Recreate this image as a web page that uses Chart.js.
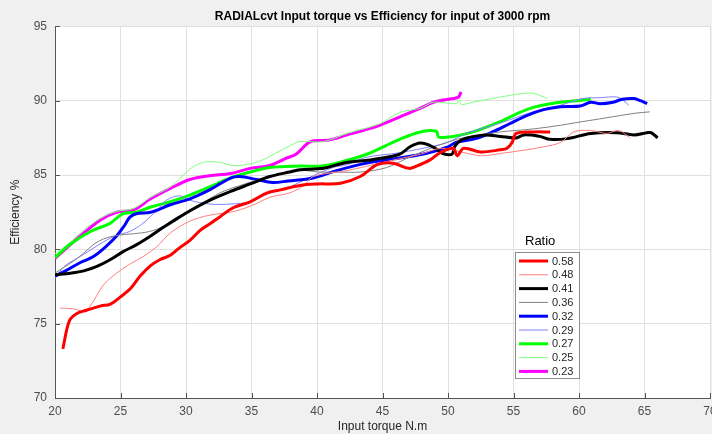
<!DOCTYPE html>
<html>
<head>
<meta charset="utf-8">
<script src="https://cdn.jsdelivr.net/npm/chart.js@4.4.0/dist/chart.umd.min.js"></script>
<style>
  html, body { margin: 0; padding: 0; background: #f0f0f0; }
  #wrap { width: 712px; height: 434px; }
</style>
</head>
<body>
<div id="wrap"><canvas id="effChart" width="712" height="434"></canvas></div>
<script>
// ratio labels (legend order)
const ratios = ['0.58', '0.48', '0.41', '0.36', '0.32', '0.29', '0.27', '0.25', '0.23'];

// [torque N.m, efficiency %]
const r058 = [[20.6,73.3],[21.1,75.2],[21.7,75.7],[22.4,75.9],[23.5,76.2],[24.2,76.3],[25.0,76.8],[25.8,77.4],[26.5,78.2],[27.3,78.9],[28.0,79.3],[28.8,79.6],[29.5,80.1],[30.3,80.6],[31.1,81.3],[31.8,81.7],[32.6,82.2],[33.6,82.8],[34.9,83.2],[36.2,83.8],[37.2,84.0],[38.7,84.3],[40.0,84.4],[41.8,84.45],[43.3,84.9],[44.6,85.7],[45.8,85.8],[47.0,85.45],[47.6,85.6],[48.6,86.0],[49.4,86.5],[50.4,86.8],[50.7,86.3],[51.2,86.8],[52.5,86.55],[54.0,86.7],[54.5,86.8],[54.9,87.2],[55.2,87.8],[56.5,87.9],[57.8,87.9]];
const r048 = [[20.4,76.05],[21.4,76.0],[22.2,75.85],[22.7,76.2],[23.7,77.6],[24.7,78.4],[25.7,79.0],[26.7,79.5],[27.8,80.2],[28.8,81.1],[30.3,81.9],[31.8,82.3],[33.4,82.5],[34.9,82.9],[36.4,83.5],[37.9,83.8],[39.0,84.3],[39.7,84.9],[42.3,85.3],[44.3,85.7],[46.3,86.1],[47.9,86.4],[49.5,86.8],[51.0,86.55],[52.5,86.3],[54.0,86.45],[56.0,86.7],[57.3,86.9],[58.6,87.2],[59.6,87.9],[60.9,88.0],[62.1,87.8],[63.0,88.0],[63.6,87.7],[63.9,87.5]];
const r041 = [[20.0,78.3],[21.2,78.4],[22.2,78.55],[23.2,78.85],[24.2,79.3],[25.2,79.85],[26.2,80.3],[27.3,80.9],[28.3,81.5],[29.2,82.0],[30.3,82.6],[31.8,83.3],[33.4,83.9],[34.9,84.4],[36.4,84.9],[37.9,85.2],[38.7,85.35],[40.5,85.45],[42.0,85.8],[44.3,86.05],[46.3,86.4],[47.1,86.9],[47.9,87.15],[48.6,87.0],[49.1,86.75],[49.6,86.45],[50.3,86.4],[50.5,86.9],[51.0,87.35],[52.0,87.6],[52.9,87.7],[54.0,87.6],[55.2,87.5],[55.8,87.7],[57.0,87.6],[57.8,87.4],[59.1,87.45],[60.9,87.8],[62.9,87.85],[64.2,87.7],[65.2,87.85],[65.5,87.85],[66.0,87.5]];
const r036 = [[20.0,78.4],[20.7,78.8],[21.4,79.2],[22.2,79.75],[22.9,80.3],[23.7,80.7],[24.8,80.95],[26.0,81.05],[27.2,81.2],[28.3,81.55],[28.8,81.9],[30.6,82.75],[32.6,83.8],[34.5,84.4],[36.5,84.9],[38.7,85.3],[40.2,85.2],[41.8,85.2],[43.3,85.2],[45.3,85.5],[46.8,86.1],[48.4,86.7],[49.9,87.2],[51.4,87.55],[54.0,87.9],[56.5,88.1],[58.6,88.35],[59.6,88.5],[62.1,88.85],[64.2,89.15],[65.4,89.25]];
const r032 = [[20.0,78.2],[20.9,78.6],[21.9,79.1],[22.9,79.5],[23.9,80.2],[24.7,80.9],[25.3,81.6],[25.7,82.15],[26.2,82.4],[27.3,82.5],[28.8,83.0],[30.3,83.4],[31.8,84.0],[33.4,84.8],[34.1,84.9],[35.4,84.7],[36.6,84.5],[37.8,84.6],[39.7,84.8],[41.5,85.3],[43.8,85.8],[46.3,86.15],[48.3,86.45],[50.0,86.9],[50.6,87.2],[52.1,87.45],[53.4,87.9],[54.7,88.45],[56.0,89.0],[57.3,89.4],[58.6,89.6],[60.1,89.65],[60.9,89.9],[61.6,89.8],[62.6,89.9],[63.3,90.1],[64.2,90.15],[64.7,90.0],[65.2,89.8]];
const r029 = [[20.0,78.05],[20.7,78.85],[21.7,79.4],[22.7,79.95],[23.7,80.5],[24.7,80.95],[25.7,81.2],[26.7,81.75],[27.8,82.65],[28.5,83.3],[29.5,83.6],[30.3,83.3],[31.8,83.05],[33.4,83.05],[34.9,83.2],[36.4,83.8],[37.9,84.2],[39.7,84.95],[41.2,85.5],[42.3,85.7],[43.8,86.2],[46.3,86.5],[48.9,86.95],[50.0,87.2],[51.4,87.8],[54.0,88.5],[56.5,89.25],[58.6,89.7],[60.3,90.15],[61.6,90.2],[62.9,90.25],[63.4,90.0],[63.8,89.7]];
const r027 = [[20.0,79.45],[21.1,80.3],[22.7,81.2],[24.2,81.75],[25.2,82.4],[26.2,82.5],[27.3,82.85],[28.8,83.2],[30.3,83.65],[31.8,84.2],[33.4,84.8],[34.9,85.2],[36.4,85.5],[38.7,85.6],[40.2,85.6],[41.5,85.8],[43.8,86.4],[46.3,87.4],[47.9,87.9],[49.1,87.95],[49.3,87.55],[50.4,87.6],[51.9,87.9],[54.0,88.6],[55.2,89.1],[56.5,89.55],[57.8,89.8],[59.8,90.0],[60.9,90.1]];
const r025 = [[20.0,79.7],[20.9,80.3],[22.2,81.3],[23.5,82.1],[24.7,82.55],[26.0,82.75],[27.3,83.5],[28.8,84.2],[30.3,85.4],[31.1,85.8],[31.8,85.9],[32.6,85.85],[33.5,85.65],[34.6,85.7],[35.7,85.95],[36.9,86.5],[37.9,86.95],[38.7,87.25],[40.5,87.25],[42.3,87.8],[44.8,88.45],[46.3,89.2],[47.9,89.5],[48.9,89.9],[50.6,89.8],[50.9,90.05],[51.0,89.75],[51.9,89.9],[53.4,90.15],[55.0,90.4],[55.8,90.5],[56.5,90.5],[57.6,90.15]];
const r023 = [[20.0,79.4],[20.9,80.1],[22.2,81.1],[23.5,82.0],[24.7,82.5],[26.0,82.65],[27.3,83.4],[28.8,84.1],[30.3,84.7],[31.8,84.95],[33.4,85.1],[34.9,85.45],[36.4,85.65],[37.7,86.15],[38.4,86.4],[39.5,87.25],[40.9,87.35],[42.3,87.7],[43.5,88.0],[44.8,88.35],[46.3,88.9],[47.9,89.5],[48.9,89.9],[50.4,90.15],[50.8,90.25],[51.0,90.6]];

const series = [r058, r048, r041, r036, r032, r029, r027, r025, r023];
const colors = ['#ff0000', '#ff8080', '#000000', '#808080', '#0000ff', '#8080ff', '#00ff00', '#80ff80', '#ff00ff'];
const widths = [3, 1, 3, 1, 3, 1, 3, 1, 3];

const FONT = "'Liberation Sans', Arial, sans-serif";

// figure background + white axes area
const bgPlugin = {
    id: 'bg',
    beforeDraw(chart) {
        const c = chart.ctx, a = chart.chartArea;
        c.save();
        c.fillStyle = '#f0f0f0';
        c.fillRect(0, 0, chart.width, chart.height);
        c.fillStyle = '#ffffff';
        c.fillRect(a.left, a.top, a.right - a.left, a.bottom - a.top);
        c.restore();
    }
};

// matlab style inward ticks
const tickPlugin = {
    id: 'inTicks',
    afterDraw(chart) {
        const c = chart.ctx, a = chart.chartArea;
        const xs = chart.scales.x, ys = chart.scales.y;
        c.save();
        c.strokeStyle = '#555';
        c.lineWidth = 1;
        c.beginPath();
        xs.ticks.forEach(t => {
            const px = Math.round(xs.getPixelForValue(t.value)) + 0.5;
            c.moveTo(px, a.bottom);
            c.lineTo(px, a.bottom - 5);
        });
        ys.ticks.forEach(t => {
            const py = Math.round(ys.getPixelForValue(t.value)) + 0.5;
            c.moveTo(a.left, py);
            c.lineTo(a.left + 5, py);
        });
        c.stroke();
        c.restore();
    }
};

// legend box sitting inside the axes
const legendPlugin = {
    id: 'ratioLegend',
    afterDatasetsDraw(chart) {
        const c = chart.ctx;
        const bx = 515, by = 252, bw = 64, bh = 126;
        c.save();
        c.fillStyle = '#ffffff';
        c.fillRect(bx, by, bw, bh);
        c.strokeStyle = '#8c8c8c';
        c.lineWidth = 1;
        c.strokeRect(bx + 0.5, by + 0.5, bw, bh);
        c.fillStyle = '#000';
        c.font = '13px ' + FONT;
        c.textBaseline = 'middle';
        c.fillText('Ratio', 525, 241);
        c.font = '11px ' + FONT;
        chart.data.datasets.forEach((ds, i) => {
            const yy = 261 + i * 13.8;
            c.strokeStyle = ds.borderColor;
            c.lineWidth = ds.borderWidth;
            c.beginPath();
            c.moveTo(519, yy);
            c.lineTo(548, yy);
            c.stroke();
            c.fillStyle = '#262626';
            c.fillText(ds.label, 552, yy + 0.5);
        });
        c.restore();
    }
};

const ctx = document.getElementById('effChart');
new Chart(ctx, {
    type: 'line',
    data: {
        datasets: series.map((s, i) => ({
            label: ratios[i],
            data: s.map(p => ({ x: p[0], y: p[1] })),
            borderColor: colors[i],
            backgroundColor: colors[i],
            borderWidth: widths[i],
            pointRadius: 0,
            tension: 0.35,
            fill: false
        }))
    },
    options: {
        responsive: false,
        animation: false,
        layout: { padding: { top: 0, right: 2, bottom: 0, left: 0 } },
        plugins: {
            legend: { display: false },
            tooltip: { enabled: false },
            title: {
                display: true,
                fullSize: false,
                text: 'RADIALcvt Input torque vs Efficiency for input of 3000 rpm',
                color: '#000',
                font: { family: FONT, size: 12, weight: 'bold' },
                padding: { top: 9, bottom: 3 }
            }
        },
        scales: {
            x: {
                type: 'linear',
                min: 20,
                max: 70,
                ticks: { stepSize: 5, padding: 6, color: '#4d4d4d', font: { family: FONT, size: 12 }, maxRotation: 0 },
                grid: { color: '#e0e0e0', drawTicks: false },
                border: { color: '#555', width: 1 },
                title: { display: true, text: 'Input torque N.m', color: '#262626', font: { family: FONT, size: 12 }, padding: { top: 0, bottom: 0 } },
                afterFit(scale) {
                    scale.height = 36;
                    scale.paddingLeft = 0;
                    scale.paddingRight = 0;
                }
            },
            y: {
                min: 70,
                max: 95,
                ticks: { stepSize: 5, padding: 8, color: '#4d4d4d', font: { family: FONT, size: 12 } },
                grid: { color: '#e0e0e0', drawTicks: false },
                border: { color: '#555', width: 1 },
                title: { display: true, text: 'Efficiency %', color: '#262626', font: { family: FONT, size: 12 }, padding: { top: 8, bottom: 0 } },
                afterFit(scale) {
                    scale.width = 55;
                    scale.paddingTop = 0;
                    scale.paddingBottom = 0;
                }
            }
        }
    },
    plugins: [bgPlugin, tickPlugin, legendPlugin]
});
</script>
</body>
</html>
